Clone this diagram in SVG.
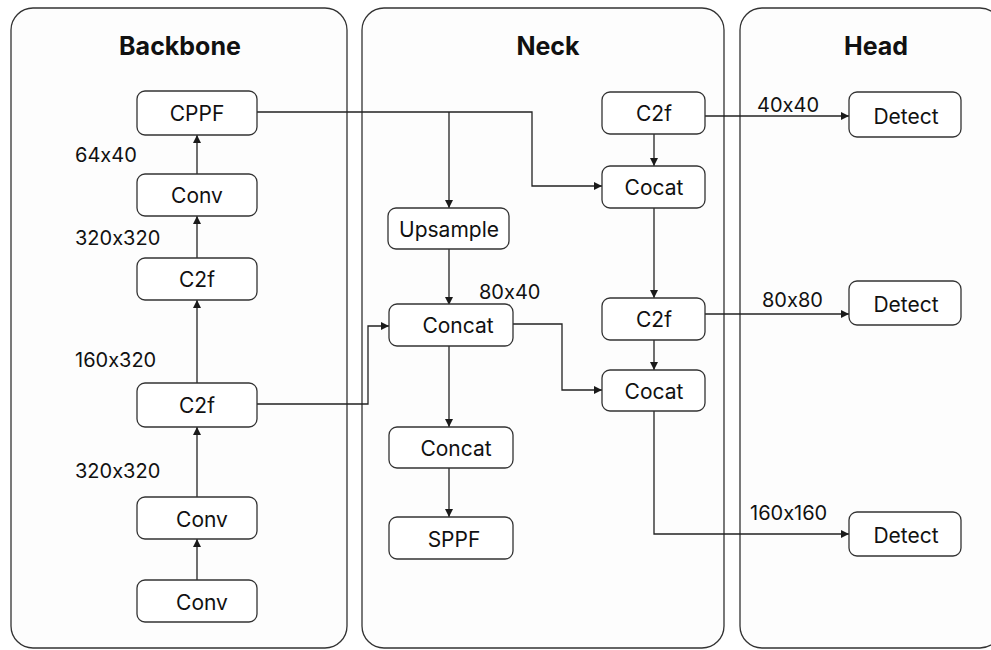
<svg xmlns="http://www.w3.org/2000/svg" width="991" height="650" viewBox="0 0 991 650">
<defs>
<marker id="ah" viewBox="0 0 10 10" refX="10" refY="5" markerWidth="8" markerHeight="8" markerUnits="userSpaceOnUse" orient="auto">
<path d="M0,0 L10,5 L0,10 z" fill="#1a1a1a"/>
</marker>
<style>
text{font-family:Inter,"Liberation Sans",Arial,sans-serif;font-feature-settings:"calt" 0;fill:#111}
.panel{fill:#fdfdfd;stroke:#333;stroke-width:1.3}
.box{fill:#fff;stroke:#333;stroke-width:1.3}
.t{font-size:21px;text-anchor:middle;dominant-baseline:central}
.title{font-size:25px;font-weight:bold;text-anchor:middle}
.lbl{font-size:20px}
.c{fill:none;stroke:#222;stroke-width:1.3;marker-end:url(#ah)}
</style>
</defs>
<rect width="991" height="650" fill="#fff"/>
<g id="panels">
<rect class="panel" x="11" y="8" width="336" height="640" rx="22"/>
<rect class="panel" x="362" y="8" width="362" height="640" rx="22"/>
<rect class="panel" x="740" y="8" width="262" height="640" rx="22"/>
<text class="title" x="180" y="55">Backbone</text>
<text class="title" x="548" y="55">Neck</text>
<text class="title" x="876" y="55">Head</text>
</g>
<g id="connectors">
<line class="c" x1="197" y1="580" x2="197" y2="539"/>
<line class="c" x1="197" y1="497" x2="197" y2="427"/>
<line class="c" x1="197" y1="383" x2="197" y2="300"/>
<line class="c" x1="197" y1="258" x2="197" y2="216"/>
<line class="c" x1="197" y1="174" x2="197" y2="135"/>
<polyline class="c" points="257,404 368,404 368,326 389,326"/>
<polyline class="c" points="257,112 532,112 532,186 602,186"/>
<line class="c" x1="449" y1="112" x2="449" y2="208"/>
<line class="c" x1="449" y1="249" x2="449" y2="305"/>
<line class="c" x1="449" y1="346" x2="449" y2="427"/>
<line class="c" x1="449" y1="468" x2="449" y2="517"/>
<polyline class="c" points="513,324 562,324 562,390 602,390"/>
<line class="c" x1="654" y1="134" x2="654" y2="166"/>
<line class="c" x1="654" y1="208" x2="654" y2="298"/>
<line class="c" x1="654" y1="340" x2="654" y2="370"/>
<line class="c" x1="705" y1="116" x2="849" y2="116"/>
<line class="c" x1="705" y1="314" x2="849" y2="314"/>
<polyline class="c" points="654,411 654,534 849,534"/>
</g>
<g id="labels">
<text class="lbl" x="75" y="162">64x40</text>
<text class="lbl" x="75" y="245">320x320</text>
<text class="lbl" x="75" y="367">160x320</text>
<text class="lbl" x="75" y="478">320x320</text>
<text class="lbl" x="479" y="299">80x40</text>
<text class="lbl" x="757" y="112">40x40</text>
<text class="lbl" x="762" y="307">80x80</text>
<text class="lbl" x="750" y="520">160x160</text>
</g>
<g id="n-cppf"><rect class="box" x="137" y="91" width="120" height="44" rx="8"/><text class="t" x="197" y="113">CPPF</text></g>
<g id="n-conv3"><rect class="box" x="137" y="174" width="120" height="42" rx="8"/><text class="t" x="197" y="195">Conv</text></g>
<g id="n-c2f2"><rect class="box" x="137" y="258" width="120" height="42" rx="8"/><text class="t" x="197" y="279">C2f</text></g>
<g id="n-c2f1"><rect class="box" x="137" y="383" width="120" height="44" rx="8"/><text class="t" x="197" y="405">C2f</text></g>
<g id="n-conv2"><rect class="box" x="137" y="497" width="120" height="42" rx="8"/><text class="t" x="202" y="519">Conv</text></g>
<g id="n-conv1"><rect class="box" x="137" y="580" width="120" height="42" rx="8"/><text class="t" x="202" y="602">Conv</text></g>
<g id="n-upsample"><rect class="box" x="388" y="208" width="121" height="41" rx="8"/><text class="t" x="449" y="229">Upsample</text></g>
<g id="n-concat1"><rect class="box" x="389" y="304" width="124" height="42" rx="8"/><text class="t" x="458" y="325">Concat</text></g>
<g id="n-concat2"><rect class="box" x="389" y="427" width="124" height="41" rx="8"/><text class="t" x="456" y="448">Concat</text></g>
<g id="n-sppf"><rect class="box" x="389" y="517" width="124" height="42" rx="8"/><text class="t" x="454" y="539">SPPF</text></g>
<g id="n-c2f-top"><rect class="box" x="602" y="92" width="103" height="42" rx="8"/><text class="t" x="654" y="113">C2f</text></g>
<g id="n-cocat1"><rect class="box" x="602" y="166" width="103" height="42" rx="8"/><text class="t" x="654" y="187">Cocat</text></g>
<g id="n-c2f-mid"><rect class="box" x="602" y="298" width="103" height="42" rx="8"/><text class="t" x="654" y="319">C2f</text></g>
<g id="n-cocat2"><rect class="box" x="602" y="370" width="103" height="41" rx="8"/><text class="t" x="654" y="391">Cocat</text></g>
<g id="n-detect1"><rect class="box" x="849" y="92" width="112" height="45" rx="8"/><text class="t" x="906" y="116">Detect</text></g>
<g id="n-detect2"><rect class="box" x="849" y="281" width="112" height="44" rx="8"/><text class="t" x="906" y="304">Detect</text></g>
<g id="n-detect3"><rect class="box" x="849" y="512" width="112" height="44" rx="8"/><text class="t" x="906" y="535">Detect</text></g>
</svg>
